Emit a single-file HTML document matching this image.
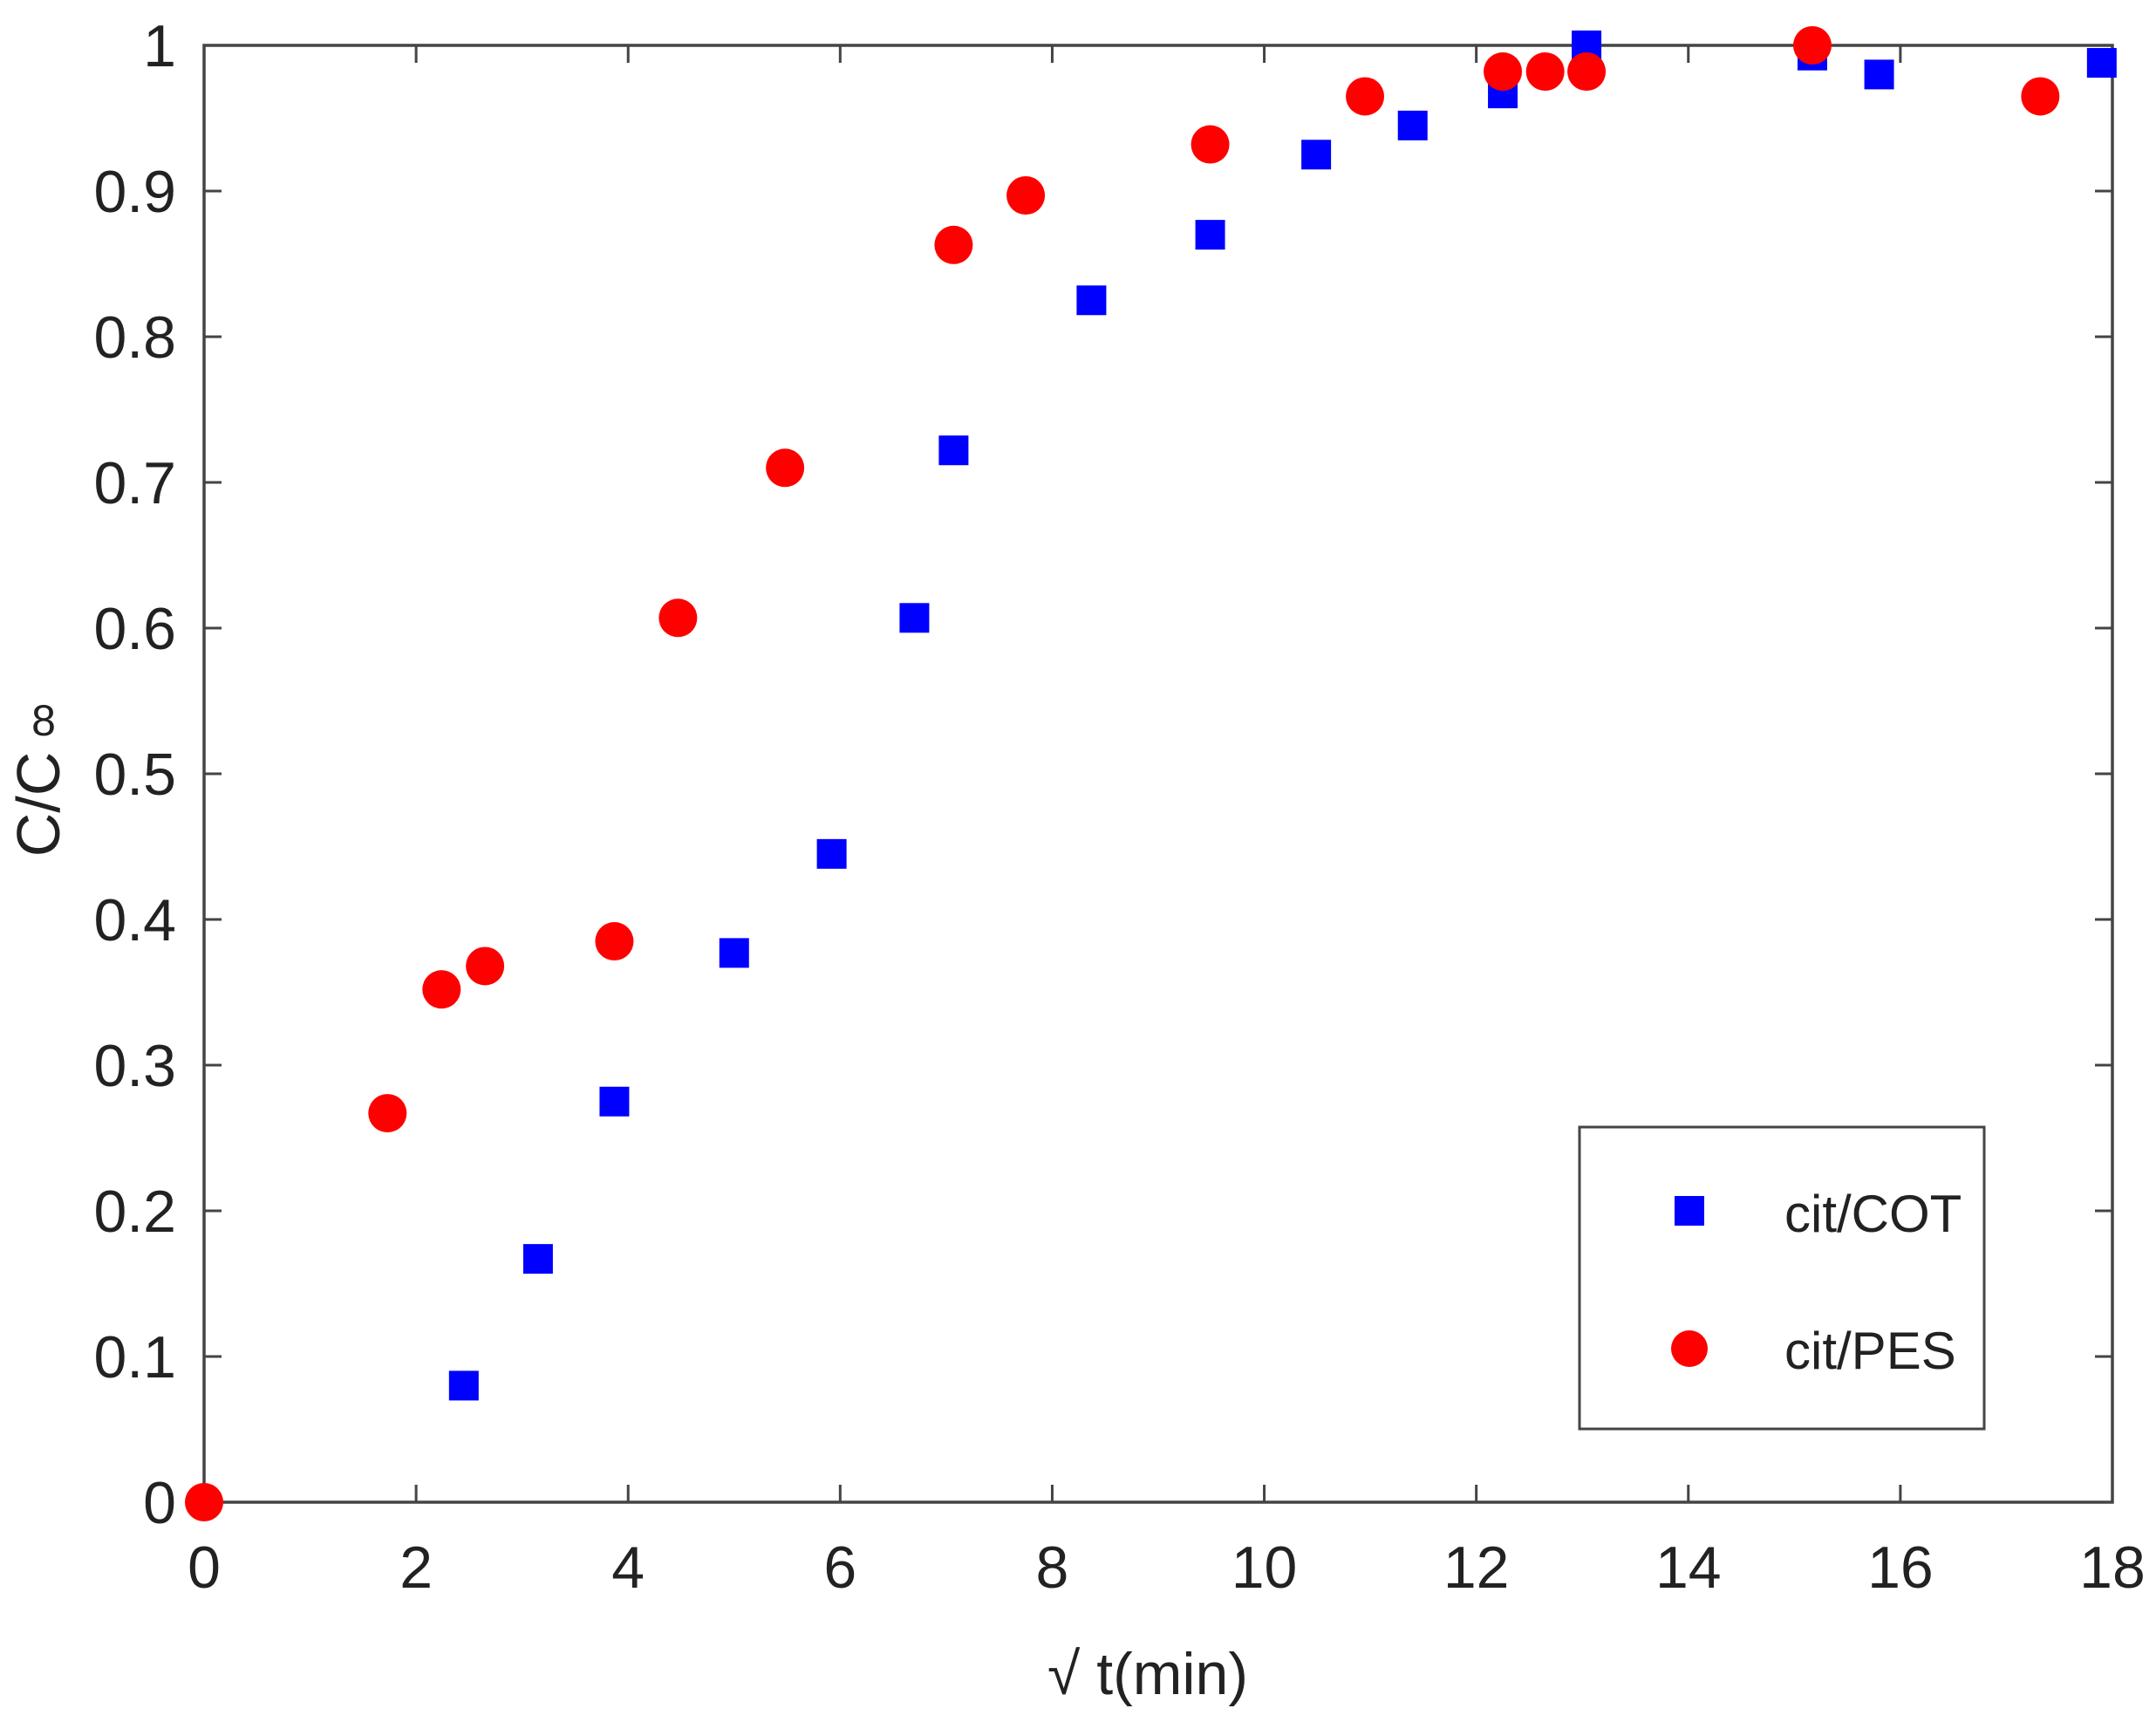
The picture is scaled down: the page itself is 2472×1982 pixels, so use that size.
<!DOCTYPE html>
<html><head><meta charset="utf-8"><style>html,body{margin:0;padding:0;background:#fff}</style></head>
<body>
<svg width="2472" height="1977" viewBox="0 0 2472 1977" xmlns="http://www.w3.org/2000/svg" font-family="Liberation Sans, Arial, sans-serif">
<rect width="2472" height="1977" fill="#fff"/>
<g id="ticks" stroke="#444" stroke-width="3"></g>
<rect x="234" y="52" width="2188" height="1670" fill="none" stroke="#444" stroke-width="3.5"/>
<g id="labels" fill="#222" font-size="68"></g>
<g id="pts"></g>
<text transform="translate(68,922) rotate(-90)" text-anchor="middle" font-size="70" fill="#222">C/C</text>
<text x="50" y="843" text-anchor="middle" font-size="50" fill="#222">8</text>
<text x="1316" y="1942" text-anchor="middle" font-size="68" fill="#222">√ t(min)</text>
<rect x="1811" y="1292" width="464" height="346" fill="#fff" stroke="#444" stroke-width="3"/>
<rect x="1920" y="1371" width="34" height="34" fill="#0000ff"/>
<text x="2046" y="1412" font-size="60" fill="#222">cit/COT</text>
<circle cx="1937" cy="1546" r="21" fill="#ff0000"/>
<text x="2046" y="1569" font-size="60" fill="#222">cit/PES</text>
<script>
var NS="http://www.w3.org/2000/svg";
function X(v){return 234+v*2188/18}function Y(c){return 1722-c*1670}
var t=document.getElementById("ticks"),l=document.getElementById("labels"),p=document.getElementById("pts");
function el(g,n,a,txt){var e=document.createElementNS(NS,n);for(var k in a)e.setAttribute(k,a[k]);if(txt!=null)e.textContent=txt;g.appendChild(e);}
for(var i=0;i<=18;i+=2){var x=X(i);el(t,"line",{x1:x,x2:x,y1:1722,y2:1702});el(t,"line",{x1:x,x2:x,y1:52,y2:72});
el(l,"text",{x:x,y:1820,"text-anchor":"middle"},String(i));}
for(var j=0;j<=10;j++){var c=j/10,y=Y(c);el(t,"line",{x1:234,x2:254,y1:y,y2:y});el(t,"line",{x1:2422,x2:2402,y1:y,y2:y});
el(l,"text",{x:202,y:y+24,"text-anchor":"end"},j==0?"0":j==10?"1":c.toFixed(1));}
var b=[[2.45,0.08],[3.15,0.167],[3.87,0.275],[5.0,0.377],[5.92,0.445],[6.7,0.607],[7.07,0.722],[8.37,0.825],[9.49,0.87],[10.49,0.925],[11.4,0.945],[12.25,0.967],[13.04,1.0],[15.17,0.993],[15.8,0.98],[17.9,0.988]];
var r=[[0,0],[1.73,0.267],[2.24,0.352],[2.65,0.368],[3.87,0.385],[4.47,0.607],[5.48,0.71],[7.07,0.863],[7.75,0.897],[9.49,0.932],[10.95,0.965],[12.25,0.982],[12.65,0.982],[13.04,0.982],[15.17,1.0],[17.32,0.965]];
b.forEach(function(d){el(p,"rect",{x:X(d[0])-17,y:Y(d[1])-17,width:34,height:34,fill:"#0000ff"});});
r.forEach(function(d){el(p,"circle",{cx:X(d[0]),cy:Y(d[1]),r:22,fill:"#ff0000"});});
</script>
</svg>
</body></html>
